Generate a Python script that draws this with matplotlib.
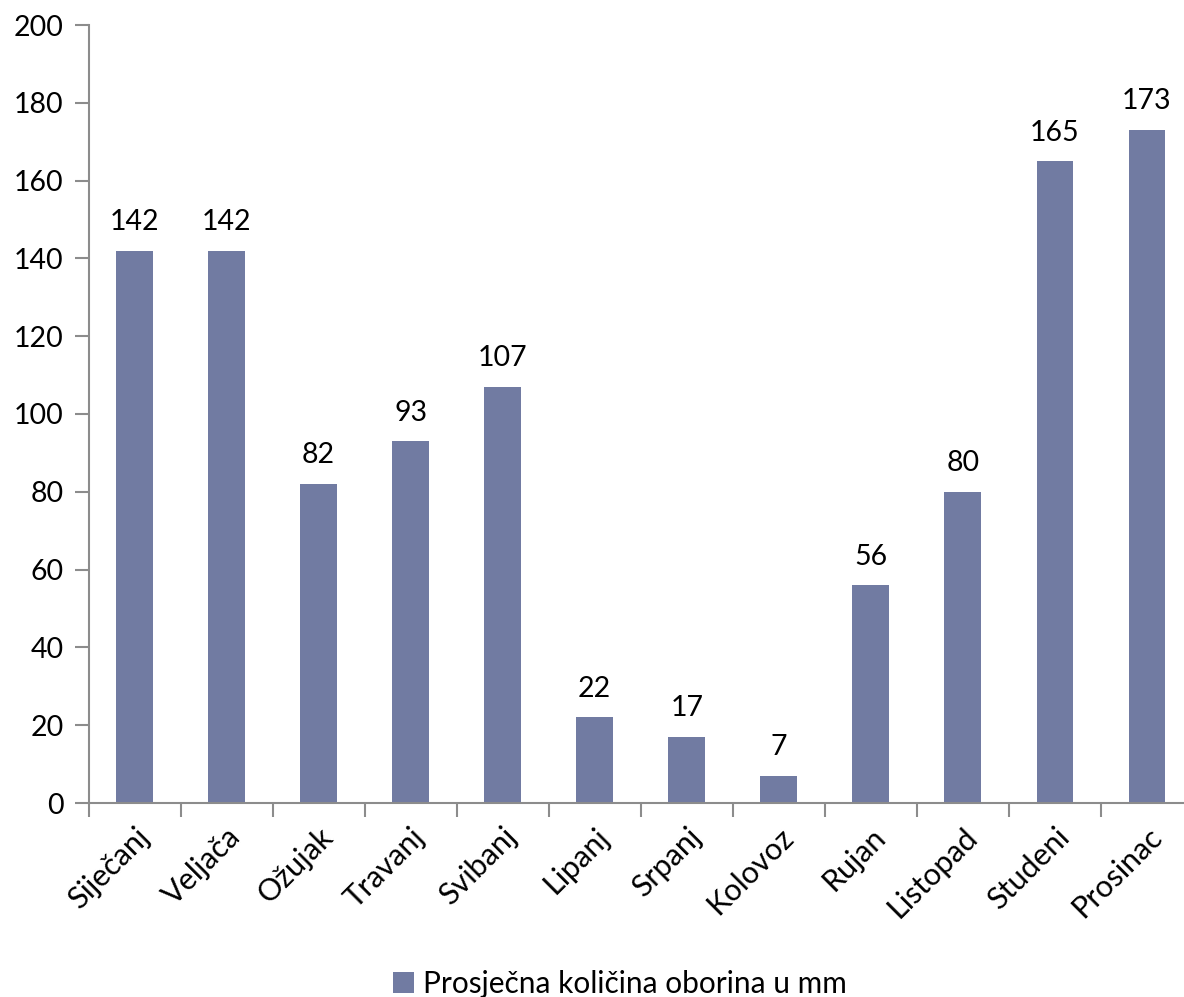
import numpy as np
import matplotlib.pyplot as plt
from matplotlib.patches import Patch

months = ['Siječanj', 'Veljača', 'Ožujak', 'Travanj', 'Svibanj', 'Lipanj',
          'Srpanj', 'Kolovoz', 'Rujan', 'Listopad', 'Studeni', 'Prosinac']
rainfall = [142, 142, 82, 93, 107, 22, 17, 7, 56, 80, 165, 173]
series_name = 'Prosječna količina oborina u mm'

bar_color = '#717ba2'
axis_color = '#8c8c8c'

plt.rcParams['font.family'] = ['Lato', 'DejaVu Sans']

fig = plt.figure(figsize=(11.84, 9.97), dpi=100)
W, H = 1184, 997
ax = fig.add_axes([88.5 / W, 194 / H, (1193 - 88.5) / W, (803 - 25) / H])

x = np.arange(len(months))
ax.bar(x, rainfall, width=0.4, color=bar_color, zorder=2)

for xi, v in zip(x, rainfall):
    ax.text(xi, v + 4, str(v), ha='center', va='bottom', fontsize=20.5)

ax.set_xlim(-0.5, len(months) - 0.5)
ax.set_ylim(0, 200)
ax.set_yticks(np.arange(0, 201, 20))

# boundaries get the tick marks, centres get the labels
ax.set_xticks(np.arange(-0.5, len(months), 1.0))
ax.set_xticklabels([])
ax.set_xticks(x, minor=True)
ax.set_xticklabels(months, minor=True, rotation=45, ha='right',
                   rotation_mode='anchor', fontsize=22)
ax.tick_params(axis='x', which='major', length=10, width=1.5, color=axis_color)
ax.tick_params(axis='x', which='minor', length=0, pad=14)
ax.tick_params(axis='y', length=10, width=1.5, color=axis_color,
               labelsize=20.5, pad=8)

for side in ['top', 'right']:
    ax.spines[side].set_visible(False)
for side in ['left', 'bottom']:
    ax.spines[side].set_color(axis_color)
    ax.spines[side].set_linewidth(1.5)

handle = Patch(facecolor=bar_color, edgecolor='none')
fig.legend([handle], [series_name], loc='center', bbox_to_anchor=(620 / W, 1 - 984 / H),
           frameon=False, fontsize=21.5, handlelength=0.7, handleheight=0.7,
           handletextpad=0.3)

plt.savefig('out.png', dpi=100)
